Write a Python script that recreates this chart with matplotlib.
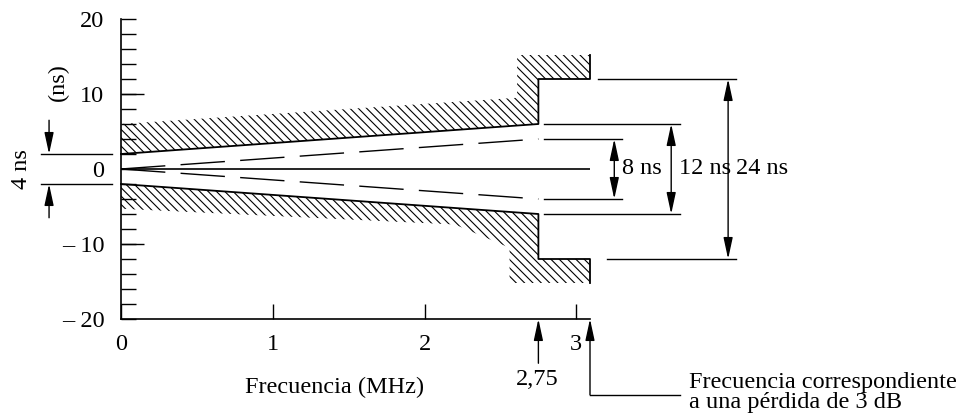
import matplotlib.pyplot as plt

plt.rcParams['font.family'] = ['Liberation Serif', 'DejaVu Serif']
plt.rcParams['hatch.linewidth'] = 0.8

# ejes
freq_ticks = [0, 1, 2, 3]
freq_labels = ['0', '1', '2', '3']
delay_ticks = [-20, -10, 0, 10, 20]
delay_labels = ['– 20', '– 10', '0', '10', '20']
delay_minor = [-18, -16, -14, -12, -8, -6, -4, -2, 2, 4, 6, 8, 12, 14, 16, 18]

f_break = 2.75   # MHz
f_3db = 3.09     # MHz, pérdida de 3 dB

# plantilla de retardo (límite superior, el inferior es simétrico)
mask_f = [0, f_break, f_break, f_3db, f_3db]
mask_d = [2, 6, 12, 12, 15.2]
# borde exterior del rayado
hatch_up_f = [f_3db, 2.61, 2.61, 0]
hatch_up_d = [15.2, 15.2, 9.5, 6]
hatch_lo_f = [f_3db, 2.56, 2.56, 2.2, 0]
hatch_lo_d = [-15.2, -15.2, -10.5, -7.4, -5.3]

# plantilla interior (discontinua)
dash_f = [0, f_break]
dash_d = [0, 4]

# cotas a la derecha: anchura total (ns), posición de la flecha
dim_widths = [8, 12, 24]
dim_x = [3.25, 3.625, 4.0]
ext_start = [2.79, 2.79, 3.14]
ext_start_low = [2.79, 2.79, 3.20]
ext_end = [3.30, 3.68, 4.05]

FS = 17.5

fig = plt.figure(figsize=(9.59, 4.19), dpi=100)
ax = fig.add_axes([121 / 959, 100 / 419, (590 - 121) / 959, 300 / 419])
ax.set_xlim(0, f_3db)
ax.set_ylim(-20, 20)

for s in ['top', 'right']:
    ax.spines[s].set_visible(False)
for s in ['left', 'bottom']:
    ax.spines[s].set_linewidth(1.2)

ax.set_xticks(freq_ticks, freq_labels)
ax.set_yticks(delay_ticks, delay_labels)
ax.set_yticks(delay_minor, minor=True)
ax.tick_params(axis='both', which='both', direction='in', length=10.8, width=1.0,
               labelsize=FS, pad=11)
ax.tick_params(axis='y', pad=12)
# marcas largas en ±10
ax.hlines([-10, 10], 0, 0.151, color='black', lw=1.0)

# zonas rayadas
up_poly_f = mask_f + hatch_up_f
up_poly_d = list(mask_d) + hatch_up_d
lo_poly_f = mask_f + hatch_lo_f
lo_poly_d = [-d for d in mask_d] + hatch_lo_d
ax.fill(up_poly_f, up_poly_d, facecolor='none', edgecolor='black', hatch='\\\\\\\\', linewidth=0)
ax.fill(lo_poly_f, lo_poly_d, facecolor='none', edgecolor='black', hatch='\\\\\\\\', linewidth=0)
ax.plot(mask_f, mask_d, color='black', lw=1.3, clip_on=False)
ax.plot(mask_f, [-d for d in mask_d], color='black', lw=1.3, clip_on=False)

# eje central y plantilla discontinua
ax.plot([0, f_3db], [0, 0], color='black', lw=1.2)
for sign in [1, -1]:
    ax.plot(dash_f, [sign * d for d in dash_d], color='black', lw=1.0,
            dashes=(32, 11))

arrow_both = dict(arrowstyle='<|-|>,head_length=1.3,head_width=0.28', color='black',
                  lw=1.0, shrinkA=0, shrinkB=0)
arrow_one = dict(arrowstyle='-|>,head_length=1.3,head_width=0.28', color='black',
                 lw=1.0, shrinkA=0, shrinkB=0)

# cotas de 8, 12 y 24 ns
for w, x, x0, x0l, x1 in zip(dim_widths, dim_x, ext_start, ext_start_low, ext_end):
    h = w / 2
    ax.plot([x0, x1], [h, h], color='black', lw=1.0, clip_on=False)
    ax.plot([x0l, x1], [-h, -h], color='black', lw=1.0, clip_on=False)
    ax.annotate('', xy=(x, h), xytext=(x, -h), arrowprops=arrow_both,
                annotation_clip=False)
    ax.text(x + 0.05, 0, f'{w} ns', fontsize=FS, ha='left', va='center', clip_on=False)

# cota de 4 ns a la izquierda
ax.plot([-0.526, -0.059], [2, 2], color='black', lw=1.0, clip_on=False)
ax.plot([-0.526, -0.059], [-2, -2], color='black', lw=1.0, clip_on=False)
ax.annotate('', xy=(-0.474, 2), xytext=(-0.474, 6.5), arrowprops=arrow_one,
            annotation_clip=False)
ax.annotate('', xy=(-0.474, -2), xytext=(-0.474, -6.5), arrowprops=arrow_one,
            annotation_clip=False)
ax.text(-0.655, 0, '4 ns', fontsize=FS, rotation=90, ha='center', va='center')
ax.text(-0.41, 11.6, '(ns)', fontsize=FS, rotation=90, ha='center', va='center')

# frecuencias marcadas bajo el eje
ax.annotate('', xy=(f_break, -20), xytext=(f_break, -25.9), arrowprops=arrow_one,
            annotation_clip=False)
ax.text(f_break - 0.01, -28.1, '2,75', fontsize=FS, ha='center', va='center')
ax.annotate('', xy=(f_3db, -20), xytext=(f_3db, -30.1), arrowprops=arrow_one,
            annotation_clip=False)
ax.plot([f_3db, 3.68], [-30.1, -30.1], color='black', lw=1.0, clip_on=False)
ax.text(3.74, -28.5, 'Frecuencia correspondiente', fontsize=FS, ha='left', va='center')
ax.text(3.74, -31.1, 'a una pérdida de 3 dB', fontsize=FS, ha='left', va='center')

ax.text(1.41, -29.1, 'Frecuencia (MHz)', fontsize=FS, ha='center', va='center')

fig.savefig('out.png', dpi=100)
